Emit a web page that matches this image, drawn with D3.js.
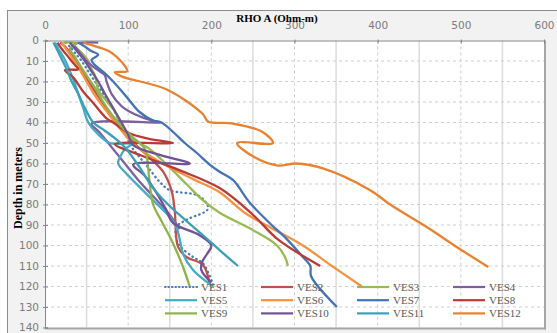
<!DOCTYPE html>
<html>
<head>
<meta charset="utf-8">
<script src="https://cdn.jsdelivr.net/npm/d3@7"></script>
<style>
  body { margin: 0; background: #fff; }
  svg { display: block; }
</style>
</head>
<body>
<svg id="chart" width="557" height="333"></svg>
<script>
// rho (ohm-m), depth (m) pairs
const ves1 = [[25,1],[30,3],[36,6],[44,10],[52,15],[60,20],[70,26],[80,32],[90,40],[98,47],[106,53],[118,59],[126,63],[138,69],[150,73],[186,76],[196,82],[170,87.5],[158,91],[160,99],[178,105.6],[190,108.7],[202,119]]
const ves2 = [[18,1],[24,3],[30,6],[38,10],[44,15],[52,20],[62,26],[72,32],[85,40],[98,46],[112,52],[128,58],[142,64],[152,73],[156,83],[160,100.7],[170,105.6],[190,109.5],[198,119]]
const ves3 = [[30,1],[36,3],[44,6],[52,10],[56,14],[60,17],[64,24],[75,30],[86,36],[90,42],[105,48],[126,53],[145,60],[170,70],[190,78],[210,84],[250,92.5],[279,100],[289,106],[292,110]]
const ves4 = [[64,1],[35,2],[40,5],[50,10],[62,14],[72,17],[74,20],[80,26],[92,32],[108,36],[128,39],[140,40],[56,40.5],[66,45],[80,52],[96,60],[112,68],[130,76],[148,84],[162,92]]
const ves5 = [[12,1],[16,4],[22,8],[28,13],[34,19],[40,26],[46,33],[52,40],[62,45],[78,50],[104,50.5],[96,53],[90,57],[88,60],[98,65],[115,72],[135,80],[150,86],[158,91],[162,97],[166,104],[178,112],[202,120]]
const ves6 = [[20,1],[25,4],[32,8],[40,13],[50,20],[62,28],[75,35],[88,42],[105,50],[125,56],[150,62],[180,68],[210,74],[240,84],[270,91],[310,100],[345,110],[381,120]]
const ves7 = [[40,1],[48,3],[55,5],[64,7],[56,9.5],[60,12],[72,16],[82,20],[98,27.5],[114,35],[130,39],[140,40],[155,45],[168,50],[183,55],[198,60.5],[210,64],[226,68],[246,79],[270,89],[291,97],[310,105.6],[319,110],[320,115],[351,130]]
const ves8 = [[15,1],[20,4],[28,8],[36,12],[40,14],[24,14.5],[34,18],[46,25],[58,30.5],[74,38],[82,40],[100,45],[125,48],[154,50],[84,50.5],[115,56],[160,63],[210,72],[250,85],[280,97],[331,110]]
const ves9 = [[22,1],[38,1.3],[30,4],[36,8],[42,12],[50,17],[60,23],[70,30],[80,36],[92,42],[105,47],[120,53],[124,62],[126,70],[130,80],[140,88],[154,99],[166,110.5],[174,120]]
const ves10 = [[30,1],[34,3],[40,6],[48,10],[56,15],[64,20],[72,26],[82,33],[92,40],[100,46],[106,51],[140,56],[174,60],[106,60.5],[120,66],[132,73],[145,82],[154,89],[186,95],[200,100],[195,104],[189,108],[188,112],[200,118]]
const ves11 = [[10,1],[14,4],[20,9],[26,14],[32,20],[40,26],[48,33],[58,40],[72,44],[88,49],[98,53],[114,62],[130,72],[148,80],[170,88],[190,95],[212,103],[232,110]]
const ves12 = [[46,1],[62,3],[78,5.5],[90,9.5],[97,13],[99,15],[84,15.5],[92,17.5],[147,24],[190,36],[196,39.5],[226,40.5],[261,44.5],[274,50],[231,50],[252,57],[280,61],[302,60],[335,62.5],[391,73],[415,80],[459,91],[495,100.7],[533,110.5]]

const seriesNames = ['VES1','VES2','VES3','VES4','VES5','VES6','VES7','VES8','VES9','VES10','VES11','VES12']
const seriesData = [ves1, ves2, ves3, ves4, ves5, ves6, ves7, ves8, ves9, ves10, ves11, ves12]
const seriesColors = ['#4a7ebb','#c0504d','#98b954','#7d60a0','#46aac5','#f69240',
                      '#4373b5','#b83b36','#8fb34c','#6f5394','#3b9fb8','#e8822f']

const rhoTicks = [0, 100, 200, 300, 400, 500, 600]
const depthTicks = [0, 10, 20, 30, 40, 50, 60, 70, 80, 90, 100, 110, 120, 130, 140]

let svg = d3.select('#chart')

let x = d3.scaleLinear().domain([0, 600]).range([45, 544])
let y = d3.scaleLinear().domain([0, 140]).range([40.5, 327.5])

// chart background and plot area
svg.append('rect')
    .attr('x', 7.5).attr('y', 10.5)
    .attr('width', 560).attr('height', 340)
    .attr('fill', '#f2f2f2')
    .attr('stroke', '#8c8c8c')

svg.append('rect')
    .attr('x', 45).attr('y', 40.5)
    .attr('width', 499).attr('height', 287)
    .attr('fill', '#fff')

// vertical grid: solid at 50s, dashed at 100s
let minorX = d3.range(50, 600, 100)
svg.selectAll('.vminor')
    .data(minorX)
    .enter()
    .append('line')
    .attr('x1', d => x(d)).attr('x2', d => x(d))
    .attr('y1', y(0)).attr('y2', y(140))
    .attr('stroke', '#dcdcdc')
    .attr('stroke-width', 1.5)

svg.selectAll('.vmajor')
    .data(rhoTicks.slice(1, -1))
    .enter()
    .append('line')
    .attr('x1', d => x(d)).attr('x2', d => x(d))
    .attr('y1', y(0)).attr('y2', y(140))
    .attr('stroke', '#cfcfcf')
    .attr('stroke-dasharray', '3,3')

svg.selectAll('.hgrid')
    .data(depthTicks.slice(1, -1))
    .enter()
    .append('line')
    .attr('x1', x(0)).attr('x2', x(600))
    .attr('y1', d => y(d)).attr('y2', d => y(d))
    .attr('stroke', '#cfcfcf')
    .attr('stroke-dasharray', '3,3')

// plot border: right and bottom heavier grey
svg.append('line')
    .attr('x1', x(600) + 1).attr('x2', x(600) + 1)
    .attr('y1', y(0)).attr('y2', y(140) + 2)
    .attr('stroke', '#a6a6a6').attr('stroke-width', 2)
svg.append('line')
    .attr('x1', x(0)).attr('x2', x(600) + 2)
    .attr('y1', y(140) + 1).attr('y2', y(140) + 1)
    .attr('stroke', '#a6a6a6').attr('stroke-width', 2)

// axes
let xAxis = d3.axisTop(x).tickValues(rhoTicks).tickSize(-3).tickPadding(12)
let yAxis = d3.axisLeft(y).tickValues(depthTicks).tickSize(-3).tickPadding(6)

let gx = svg.append('g').attr('transform', 'translate(0,' + y(0) + ')').call(xAxis)
let gy = svg.append('g').attr('transform', 'translate(' + x(0) + ',0)').call(yAxis)

;[gx, gy].forEach(g => {
    g.select('.domain').attr('stroke', '#868686')
    g.selectAll('.tick line').attr('stroke', '#868686').attr('transform', null)
    g.selectAll('.tick text')
        .attr('fill', '#7b7b7b')
        .style('font-family', 'DejaVu Sans')
        .style('font-size', '10.5px')
})
gx.selectAll('.tick line').attr('y1', -1)
gy.selectAll('.tick line').attr('x1', -2)

// series lines
let lineGen = d3.line()
    .x(d => x(d[0]))
    .y(d => y(d[1]))
    .curve(d3.curveCatmullRom.alpha(0.5))

svg.selectAll('.ves')
    .data(seriesData)
    .enter()
    .append('path')
    .attr('d', lineGen)
    .attr('fill', 'none')
    .attr('stroke', (d, i) => seriesColors[i])
    .attr('stroke-width', 2.3)
    .attr('stroke-linejoin', 'round')
    .attr('stroke-linecap', (d, i) => i === 0 ? 'round' : 'butt')
    .attr('stroke-dasharray', (d, i) => i === 0 ? '0.5,4' : null)

// titles
svg.append('text')
    .attr('x', 277).attr('y', 22)
    .attr('text-anchor', 'middle')
    .style('font-family', 'Liberation Serif')
    .style('font-weight', 'bold')
    .style('font-size', '11px')
    .text('RHO A (Ohm-m)')

svg.append('text')
    .attr('transform', 'translate(22,188) rotate(-90)')
    .attr('text-anchor', 'middle')
    .style('font-family', 'Liberation Serif')
    .style('font-weight', 'bold')
    .style('font-size', '12px')
    .text('Depth in meters')

// legend
let legend = svg.selectAll('.legend')
    .data(seriesNames)
    .enter()
    .append('g')
    .attr('transform', (d, i) => 'translate(' + (165 + (i % 4) * 96) + ',' + (287 + Math.floor(i / 4) * 13.2) + ')')

legend.append('line')
    .attr('x1', 0).attr('x2', 32)
    .attr('stroke', (d, i) => seriesColors[i])
    .attr('stroke-width', 2.2)
    .attr('stroke-linecap', (d, i) => i === 0 ? 'round' : 'butt')
    .attr('stroke-dasharray', (d, i) => i === 0 ? '0.5,3' : null)

legend.append('text')
    .attr('x', 36).attr('y', 4)
    .attr('fill', '#595959')
    .style('font-family', 'Liberation Serif')
    .style('font-size', '11px')
    .text(d => d)
</script>
</body>
</html>
